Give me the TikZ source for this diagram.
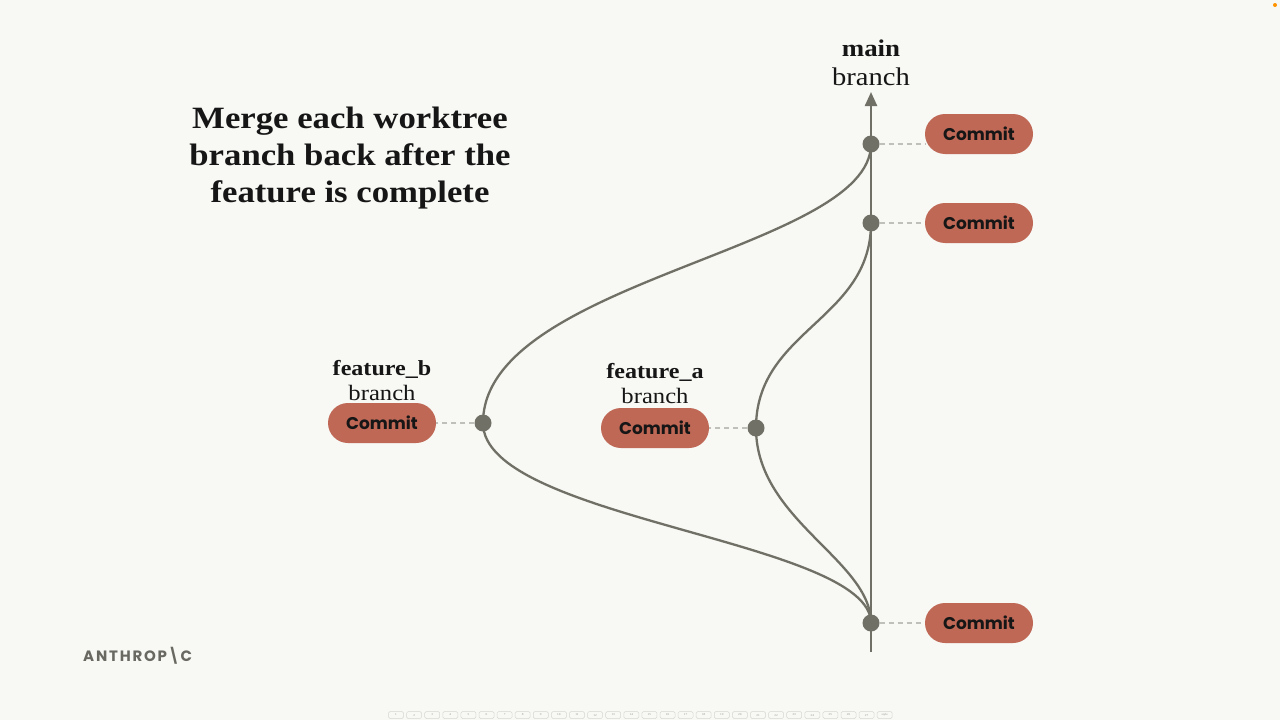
\documentclass[tikz,border=0pt]{standalone}
\usepackage{fontspec}
\setmainfont{Liberation Serif}[FakeStretch=1.12]
\newfontfamily\pop{Poppins}
\usetikzlibrary{arrows.meta,backgrounds}
\definecolor{bgc}{RGB}{248,248,244}
\definecolor{linec}{RGB}{112,112,102}
\definecolor{pillc}{RGB}{191,104,86}
\definecolor{txtc}{RGB}{22,22,22}
\definecolor{guidec}{RGB}{192,192,186}
\definecolor{logoc}{RGB}{105,105,98}
\definecolor{navc}{RGB}{215,215,210}
\begin{document}
\begin{tikzpicture}[x=1pt,y=-1pt,
  pill/.style={fill=pillc, rounded corners=20pt, minimum width=108pt, minimum height=40pt,
    font=\pop\bfseries\fontsize{17}{17}\selectfont, text=txtc, inner sep=0pt},
  cdot/.style={circle, fill=linec, minimum size=17pt, inner sep=0pt},
  branchline/.style={draw=linec, line width=2.3pt},
  guide/.style={draw=guidec, line width=1.1pt, dash pattern=on 5pt off 4pt},
  lblbold/.style={font=\bfseries\fontsize{#1}{#1}\selectfont, text=txtc, inner sep=0pt},
  lbl/.style={font=\fontsize{#1}{#1}\selectfont, text=txtc, inner sep=0pt},
  navbox/.style={draw=navc, fill=bgc, rounded corners=1.5pt, minimum width=15pt, minimum height=7pt,
    inner sep=0pt, line width=0.5pt, font=\fontsize{3}{3}\selectfont, text=navc!70!black}
]
\useasboundingbox (0,0) rectangle (1280,720);
\begin{scope}[on background layer]
\fill[bgc] (0,0) rectangle (1280,720);
\end{scope}

% title
\node[align=center, font=\bfseries\fontsize{31}{37}\selectfont, text=txtc] (title) at (350,158)
  {Merge each worktree\\branch back after the\\feature is complete};

% logo
\node[font=\pop\bfseries\fontsize{15}{15}\selectfont, text=logoc, anchor=west, inner sep=0pt] (logo) at (83,656)
  {A\kern1.8pt N\kern1.8pt T\kern1.8pt H\kern1.8pt R\kern1.8pt O\kern1.8pt P\kern0.8pt\textbackslash\kern0.8pt C};

% positions
\coordinate (bot) at (871,652);
\coordinate (top) at (871,92);

% dots
\node[cdot] (m3) at (871,144) {};
\node[cdot] (m2) at (871,223) {};
\node[cdot] (m1) at (871,623) {};
\node[cdot] (fb) at (483,423) {};
\node[cdot] (fa) at (756,428) {};

% pills
\node[pill] (p3) at (979,134) {Commit};
\node[pill] (p2) at (979,223) {Commit};
\node[pill] (p1) at (979,623) {Commit};
\node[pill] (pb) at (382,423) {Commit};
\node[pill] (pa) at (655,428) {Commit};

% labels
\node[lblbold=24] (mainl) at (871,48) {main};
\node[lbl=25.5] (mainb) at (871,77) {branch};
\node[lblbold=21.5] (fbl) at (382,369) {feature\_b};
\node[lbl=22] (fbb) at (382,393) {branch};
\node[lblbold=21.5] (fal) at (655,372) {feature\_a};
\node[lbl=22] (fab) at (655,396) {branch};

\begin{scope}[on background layer]
% main line
\draw[branchline, -{Triangle[length=14pt,width=12pt]}] (bot) -- (top);
% feature_b
\draw[branchline] (m1.center) .. controls (871,540) and (483,520) .. (fb.center);
\draw[branchline] (fb.center) .. controls (483,280) and (871,250) .. (m3.center);
% feature_a
\draw[branchline] (m1.center) .. controls (871,560) and (756,520) .. (fa.center);
\draw[branchline] (fa.center) .. controls (756,330) and (871,320) .. (m2.center);
% guides
\draw[guide] (m3) -- (m3 -| p3.west);
\draw[guide] (m2) -- (p2);
\draw[guide] (m1) -- (p1);
\draw[guide] (fb) -- (pb);
\draw[guide] (fa) -- (pa);
\end{scope}

% nav bar
\foreach \i [count=\k from 0] in {1,...,27} {
  \node[navbox] (nav\i) at ({396+\k*18.1},715) {\i};
}
\node[navbox] (navs) at ({396+27*18.1},715) {style};
\node[circle, fill=orange!85!yellow, minimum size=4pt, inner sep=0pt] (odot) at (1275,5) {};
\end{tikzpicture}
\end{document}
